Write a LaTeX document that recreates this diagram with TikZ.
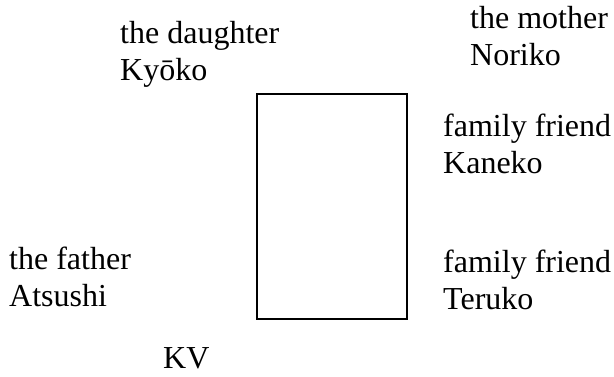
\documentclass[tikz,border=0pt]{standalone}
\usepackage{fontspec}
\setmainfont{Liberation Serif}
\begin{document}
\begin{tikzpicture}[x=1pt,y=-1pt,
  person/.style={anchor=base west, align=left, inner sep=0pt,
    font=\fontsize{32}{37}\selectfont},
  frame/.style={draw=black, line width=2pt}]
\useasboundingbox (0,0) rectangle (614,376);
% the card in the middle
\node[frame, minimum width=150pt, minimum height=225pt, inner sep=0pt, anchor=north west] (card) at (256,93) {};
% labels, each placed by the baseline of its last line
\node[person] (daughter) at (120,80) {the daughter\\Ky\=oko};
\node[person] (mother) at (470,65) {the mother\\Noriko};
\node[person] (kaneko) at (443,173) {family friend\\Kaneko};
\node[person] (father) at (9,306) {the father\\Atsushi};
\node[person] (teruko) at (443,309) {family friend\\Teruko};
\node[person] (kv) at (163,368) {KV};
\end{tikzpicture}
\end{document}
